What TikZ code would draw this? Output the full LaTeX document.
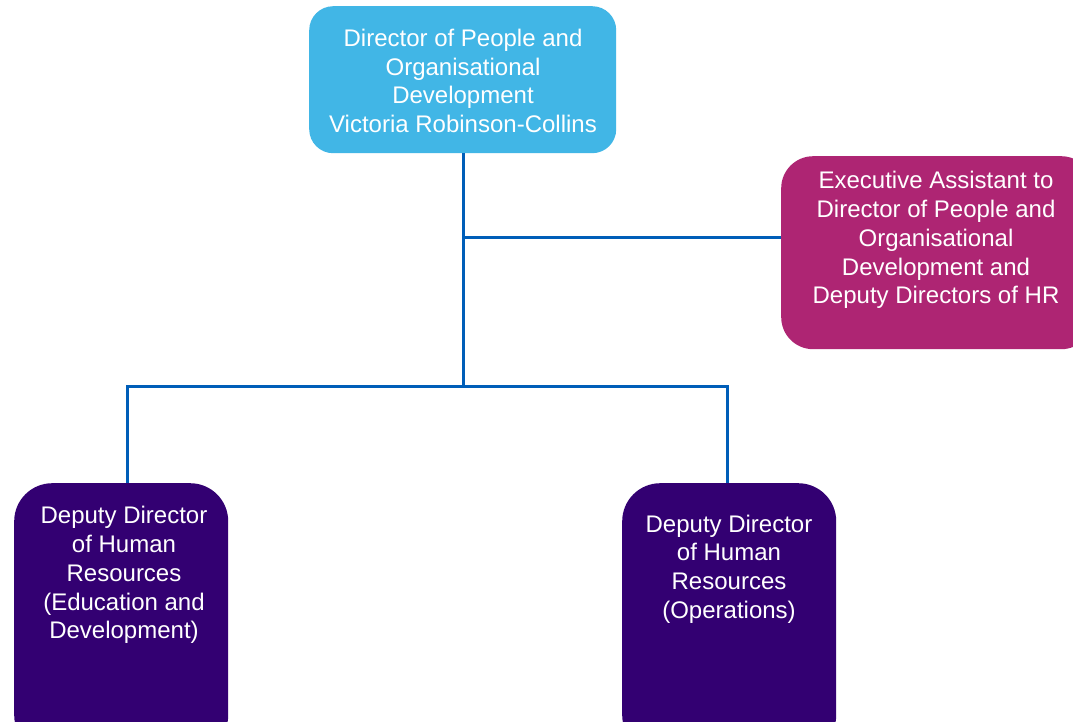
\documentclass[tikz,border=0pt]{standalone}
\usepackage{fontspec}
\setmainfont{Liberation Sans}
\definecolor{nhsblue}{HTML}{005EB8}
\definecolor{boxcyan}{HTML}{41B6E6}
\definecolor{boxpink}{HTML}{AE2573}
\definecolor{boxpurple}{HTML}{330072}
\begin{document}
\begin{tikzpicture}[x=1pt,y=-1pt,
  card/.style={draw=none, inner sep=0pt, anchor=north west},
  label/.style={text=white, align=center, inner sep=0pt,
    font=\fontsize{24}{28.8}\selectfont},
  link/.style={draw=nhsblue, line width=3pt}]
\useasboundingbox (0,0) rectangle (1073,721);
\clip (0,0) rectangle (1073,721);
\fill[white] (0,0) rectangle (1073,721);

% boxes
\node[card, fill=boxcyan, rounded corners=24pt, minimum width=307pt, minimum height=147pt] (dir) at (309,6) {};
\node[card, fill=boxpink, rounded corners=32pt, minimum width=312pt, minimum height=193pt] (ea) at (781,156) {};
\node[card, fill=boxpurple, rounded corners=38pt, minimum width=214pt, minimum height=270pt] (ded) at (14,483) {};
\node[card, fill=boxpurple, rounded corners=38pt, minimum width=214pt, minimum height=270pt] (ops) at (622,483) {};

% texts
\node[label] (dirt) at (463,81) {Director of People and\\Organisational\\Development\\Victoria Robinson-Collins};
\node[label] (eat) at (936,240) {Executive Assistant to\\Director of People and\\Organisational\\Development and\\Deputy Directors of HR};
\node[label] (dedt) at (124,575) {Deputy Director\\of Human\\Resources\\(Education and\\Development)};
\node[label] (opst) at (729,569) {Deputy Director\\of Human\\Resources\\(Operations)};

% connectors
\coordinate (mid) at (463,237);
\coordinate (split) at (463,386);
\draw[link] (dir.south -| mid) -- (split);
\draw[link] (mid) -- (ea.west |- mid);
\draw[link] (ded.north -| 127,0) |- (split) -| (ops.north -| 727,0);
\end{tikzpicture}
\end{document}
